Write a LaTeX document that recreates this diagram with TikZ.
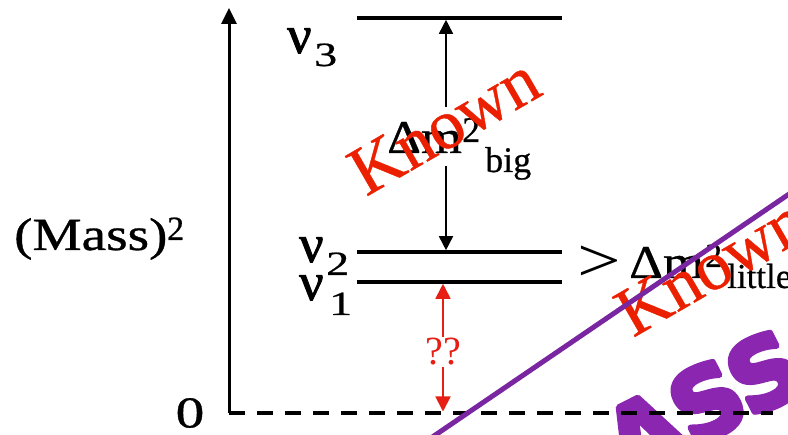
\documentclass[tikz,border=0pt]{standalone}
\usepackage{fontspec}
\setmainfont{Liberation Serif}
\newfontfamily\stampfont{DejaVu Sans}
\usetikzlibrary{arrows.meta}
\definecolor{knownred}{RGB}{235,32,0}
\definecolor{qred}{RGB}{230,30,20}
\definecolor{lineviolet}{RGB}{122,38,160}
\definecolor{stampviolet}{RGB}{138,38,176}
\newcommand{\myfs}[1]{\fontsize{#1}{#1}\selectfont}
\newcommand{\strk}[2]{\special{pdf:literal direct q 2 Tr #1 w 1 j 1 J}#2\special{pdf:literal direct Q}}
\begin{document}
\begin{tikzpicture}[x=1pt,y=-1pt,
  txt/.style={inner sep=0pt, anchor=base west},
  level/.style={line width=3.6pt},
  knowntxt/.style={inner sep=0pt, anchor=base west, rotate=30, text=knownred},
  blackarrow/.style={line width=1.6pt, -{Triangle[length=14pt,width=14pt]}},
  redarrow/.style={qred, line width=1.8pt, {Triangle[length=15pt,width=15pt]}-{Triangle[length=15pt,width=15pt]}}]
\useasboundingbox (0,0) rectangle (788,435);
\clip (0,0) rectangle (788,435);
% levels
\coordinate (l3a) at (357,18);  \coordinate (l3b) at (562,18);
\coordinate (l2a) at (357,252); \coordinate (l2b) at (562,252);
\coordinate (l1a) at (357,282); \coordinate (l1b) at (562,282);
\draw[level] (l3a) -- (l3b);
\draw[level] (l2a) -- (l2b);
\draw[level] (l1a) -- (l1b);
% axis
\coordinate (origin) at (229,413);
\coordinate (axtop) at (229,8);
\draw[line width=3pt, -{Triangle[length=16pt,width=15pt]}] (origin) -- (axtop);
% big splitting arrow
\coordinate (bt) at (446,19.8);
\coordinate (bb) at (446,250.2);
\coordinate (bg1) at (446,107);
\coordinate (bg2) at (446,166);
\draw[blackarrow] (bg1) -- (bt);
\draw[blackarrow] (bg2) -- (bb);
% labels
\node[txt] (mass) at (14,250) {\myfs{46}\strk{0.3}{\scalebox{1.2}[1]{(Mass)}}};
\node[txt] (masssup) at (167,240) {\myfs{34}\strk{0.2}{2}};
\node[inner sep=0pt] (zero) at (190,413) {\myfs{44}\strk{0.3}{\scalebox{1.3}[1]{0}}};
\node[txt] (nu3) at (287,53) {\myfs{54}\strk{0.9}{ν}};
\node[txt] (nu3s) at (314,66) {\myfs{34}\strk{0.2}{\scalebox{1.35}[1]{3}}};
\node[txt] (nu2) at (299,262) {\myfs{54}\strk{0.9}{ν}};
\node[txt] (nu2s) at (326,275) {\myfs{34}\strk{0.2}{\scalebox{1.35}[1]{2}}};
\node[txt] (nu1) at (299,300) {\myfs{54}\strk{0.9}{ν}};
\node[txt] (nu1s) at (329,315) {\myfs{34}\strk{0.2}{\scalebox{1.35}[1]{1}}};
\node[txt] (dmb) at (387,153) {\myfs{47}\strk{0.3}{\scalebox{1.12}[1]{Δm}}};
\node[txt] (dmbsup) at (462,142) {\myfs{36}\strk{0.2}{2}};
\node[txt] (dmbsub) at (485,172) {\myfs{36}\strk{0.2}{big}};
\node[txt] (gt) at (577,282) {\myfs{62}\scalebox{1.25}[1]{>}};
\node[txt] (dml) at (629,278) {\myfs{47}\strk{0.3}{\scalebox{1.12}[1]{Δm}}};
\node[txt] (dmlsup) at (705,267) {\myfs{34}\strk{0.2}{2}};
\node[txt] (dmlsub) at (727,288) {\myfs{35}\strk{0.2}{little}};
% unknown absolute scale
\coordinate (rt) at (443,283.8);
\coordinate (rb) at (443,411.5);
\draw[redarrow] (rt) -- (rb);
\node[fill=white, inner sep=1.5pt, text=qred] (qq) at (443,352) {\myfs{40}??};
% Known stamps
\node[knowntxt] (known1) at (366,197) {\myfs{70}\strk{0.4}{Known}};
\node[knowntxt] (known2) at (633,338) {\myfs{70}\strk{0.4}{Known}};
% purple stamp
\node[rotate=27, text=stampviolet, inner sep=0pt] (stamp) at (739,385) {\stampfont\bfseries\myfs{95}\strk{6}{ASSO}};
% zero line
\coordinate (zend) at (773,413);
\draw[line width=3.4pt, dash pattern=on 16pt off 12pt] (origin) -- (zend);
% purple line
\coordinate (pl1) at (428,440);
\coordinate (pl2) at (795,190);
\draw[lineviolet, line width=5pt] (pl1) -- (pl2);
\end{tikzpicture}
\end{document}
